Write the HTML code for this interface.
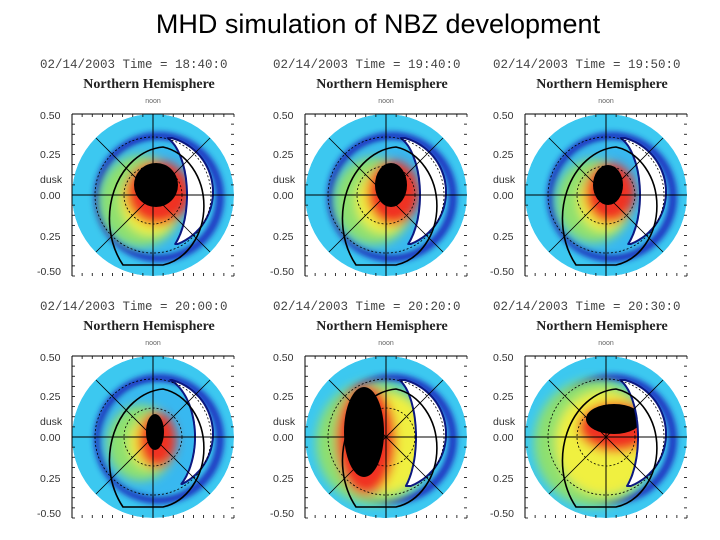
<!DOCTYPE html>
<html><head><meta charset="utf-8"><style>
html,body{margin:0;padding:0;background:#fff;}
svg{display:block;}
.t{font-family:"Liberation Mono",monospace;font-size:12.5px;fill:#444;}
.h{font-family:"Liberation Serif",serif;font-weight:bold;font-size:14px;fill:#222;}
.a{font-family:"Liberation Sans",sans-serif;font-size:10.5px;fill:#333;}
</style></head><body>
<svg id="s" width="720" height="540" viewBox="0 0 720 540">
<defs>
<filter id="b3" x="-50%" y="-50%" width="200%" height="200%"><feGaussianBlur stdDeviation="3"/></filter>
<filter id="b6" x="-50%" y="-50%" width="200%" height="200%"><feGaussianBlur stdDeviation="5"/></filter>
</defs>
<text x="378" y="33" text-anchor="middle" font-family="Liberation Sans, sans-serif" font-size="27" fill="#000">MHD simulation of NBZ development</text>
</svg>
<script>
var times=["18:40:0","19:40:0","19:50:0","20:00:0","20:20:0","20:30:0"];
var cols=[153,386,606];
var rows=[195,437];
var blackDx=[3,5,2,2,-22,8];
var blackDy=[-10,-10,-10,-5,-5,-18];
var blackRx=[22,16,15,9,20,28];
var blackRy=[22,22,20,18,45,15];
var redR=[28,26,24,20,44,46];
var crescentW=[28,28,28,36,24,26];
var NS="http://www.w3.org/2000/svg";
var svg=document.getElementById('s');
function mk(tag,attrs,parent){var e=document.createElementNS(NS,tag);for(var k in attrs)e.setAttribute(k,attrs[k]);(parent||svg).appendChild(e);return e;}
function crescentPath(cx,cy,rx){
  var R2=56, ox=cx+4, oy=cy-3, right=[], left=[];
  for(var y=-56;y<=52;y+=2){
    var xr=ox+Math.sqrt(Math.max(0,R2*R2-(y)*(y)));
    var ey=(oy+y)-cy;
    var xl=cx+6+(Math.abs(ey)<60?rx*Math.sqrt(1-(ey/60)*(ey/60)):0);
    if(xr>xl){right.push([xr,oy+y]);left.push([xl,oy+y]);}
  }
  var pts=right.concat(left.reverse());
  return 'M'+pts.map(function(p){return p[0].toFixed(1)+' '+p[1].toFixed(1);}).join(' L')+'Z';
}
for(var i=0;i<6;i++){
  var cx=cols[i%3], cy=rows[Math.floor(i/3)], R=81;
  var g=mk('g',{});
  
  
  var x0=cx-113;
  var t=mk('text',{x:x0,y:cy-127,'class':'t'},g);t.textContent='02/14/2003 Time = '+times[i];
  
  var h=mk('text',{x:cx-4,y:cy-107,'class':'h','text-anchor':'middle'},g);h.textContent='Northern Hemisphere';
  
  var nn=mk('text',{x:cx,y:cy-92,'font-size':'7','text-anchor':'middle','fill':'#666','font-family':'Liberation Sans'},g);nn.textContent='noon';
  
  var labs=[['0.50',-76],['0.25',-37],['dusk',-12],['0.00',4],['0.25',45],['-0.50',80]];
  labs.forEach(function(l){var e=mk('text',{x:x0+(l[0]=='-0.50'?-3:0),y:cy+l[1],'class':'a','font-size':l[0]=='dusk'?9:10.5},g);e.textContent=l[0];
    });
  var cp='clip'+i;var c=mk('clipPath',{id:cp},g);mk('circle',{cx:cx,cy:cy,r:R},c);
  var d=mk('g',{'clip-path':'url(#'+cp+')'},g);
  
  mk('circle',{cx:cx,cy:cy,r:R,fill:'#3cc8f0'},d);
  var bl=mk('g',{filter:'url(#b3)'},d);
  mk('circle',{cx:cx+6,cy:cy+2,r:61,fill:'none',stroke:'#1a30c0','stroke-width':8},bl);
  mk('circle',{cx:cx+2,cy:cy+4,r:54,fill:'#38b8f0'},bl);
  var bl2=mk('g',{filter:'url(#b6)'},d);
  mk('ellipse',{cx:cx-12,cy:cy+6,rx:redR[i]+14,ry:redR[i]+18,fill:'#8ee070'},bl2);
  mk('ellipse',{cx:cx-2,cy:cy+6,rx:redR[i]+2,ry:redR[i]+6,fill:'#f0f040'},bl2);
  mk('ellipse',{cx:cx+blackDx[i]+2,cy:cy+blackDy[i]+8,rx:blackRx[i]+10,ry:blackRy[i]+10,fill:'#f03020'},bl2);
  mk('ellipse',{cx:cx+blackDx[i],cy:cy+blackDy[i],rx:blackRx[i],ry:blackRy[i],fill:'#000'},d);
  var cr=mk('path',{d:crescentPath(cx,cy,crescentW[i]),fill:'#fff',stroke:'#0c1880','stroke-width':2,'stroke-linejoin':'round'},d);
  
  mk('path',{d:'M'+(cx-30)+' '+(cy+70)+' A58 72 0 0 1 '+(cx+10)+' '+(cy-48)+' A50 60 0 0 1 '+(cx+10)+' '+(cy+70)+'Z',fill:'none',stroke:'#000','stroke-width':1.6},d);
  mk('circle',{cx:cx,cy:cy,r:58,fill:'none',stroke:'#000','stroke-width':0.8,'stroke-dasharray':'2 2'},d);
  mk('circle',{cx:cx,cy:cy,r:29,fill:'none',stroke:'#000','stroke-width':0.8,'stroke-dasharray':'2 2'},d);
  mk('line',{x1:cx-57,y1:cy-57,x2:cx+57,y2:cy+57,stroke:'#000','stroke-width':0.8},d);
  mk('line',{x1:cx-57,y1:cy+57,x2:cx+57,y2:cy-57,stroke:'#000','stroke-width':0.8},d);
  mk('line',{x1:cx,y1:cy-R,x2:cx,y2:cy+R,stroke:'#000','stroke-width':1},g);
  mk('line',{x1:cx-R,y1:cy,x2:cx+R,y2:cy,stroke:'#000','stroke-width':1},g);
  mk('line',{x1:cx-R,y1:cy-R,x2:cx+R,y2:cy-R,stroke:'#000','stroke-width':1},g);
  mk('line',{x1:cx-R,y1:cy-R,x2:cx-R,y2:cy+R,stroke:'#000','stroke-width':1},g);
  for(var k=0;k<=16;k++){var xx=cx-R+k*R/8;
    mk('line',{x1:xx,y1:cy-R,x2:xx,y2:cy-R+3,stroke:'#000','stroke-width':0.8},g);
    mk('line',{x1:xx,y1:cy+R,x2:xx,y2:cy+R-3,stroke:'#000','stroke-width':0.8},g);
    var yy=cy-R+k*R/8;
    mk('line',{x1:cx+R,y1:yy,x2:cx+R-3,y2:yy,stroke:'#000','stroke-width':0.8},g);
    mk('line',{x1:cx-R,y1:yy,x2:cx-R+3,y2:yy,stroke:'#000','stroke-width':0.8},g);}
}
</script>
</body></html>
